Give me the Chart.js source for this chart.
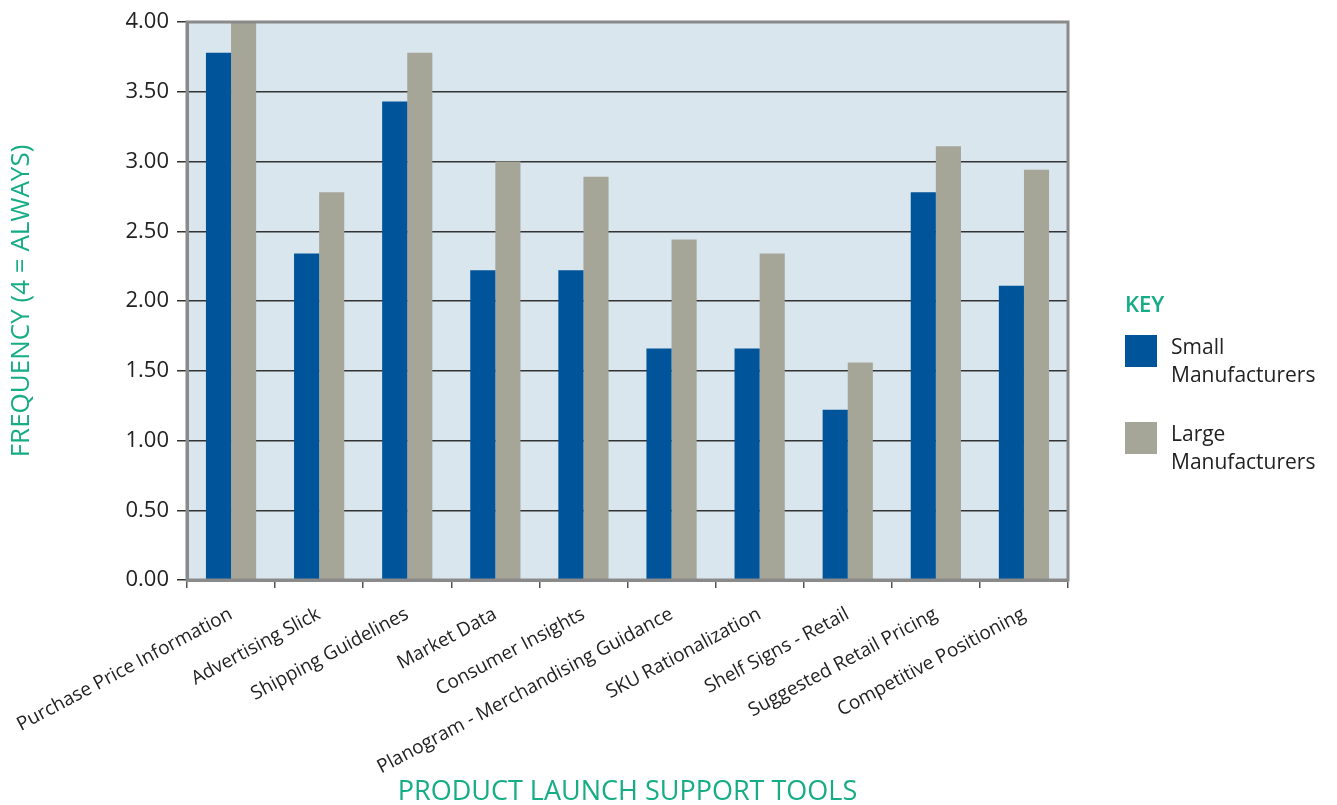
<!DOCTYPE html>
<html>
<head>
<meta charset="utf-8">
<script src="https://cdn.jsdelivr.net/npm/chart.js@4/dist/chart.umd.min.js"></script>
<style>
    html, body { margin: 0; background: #fff; }
    #wrap { width: 1337px; height: 805px; }
</style>
</head>
<body>
<div id="wrap"><canvas id="launch_tools"></canvas></div>
<script>
const tools = [
    "Purchase Price Information", "Advertising Slick", "Shipping Guidelines", "Market Data",
    "Consumer Insights", "Planogram - Merchandising Guidance", "SKU Rationalization",
    "Shelf Signs - Retail", "Suggested Retail Pricing", "Competitive Positioning"
]
const smallManufacturers = [3.78, 2.34, 3.43, 2.22, 2.22, 1.66, 1.66, 1.22, 2.78, 2.11]
const largeManufacturers = [4.00, 2.78, 3.78, 3.00, 2.89, 2.44, 2.34, 1.56, 3.11, 2.94]
const yTicks = [0, 0.5, 1, 1.5, 2, 2.5, 3, 3.5, 4]

const BLUE = '#00559a'
const GREY = '#a5a598'
const GREEN = '#16ad86'
const FONT = "'Open Sans', sans-serif"

Chart.defaults.font.family = FONT
Chart.defaults.color = '#222'

// Plot background + frame
const plotFrame = {
    id: 'plotFrame',
    beforeDraw(chart) {
        const a = chart.chartArea, ctx = chart.ctx
        ctx.save()
        ctx.fillStyle = '#d9e6ee'
        ctx.fillRect(a.left, a.top, a.right - a.left, a.bottom - a.top)
        ctx.restore()
    },
    afterDraw(chart) {
        const a = chart.chartArea, ctx = chart.ctx
        ctx.save()
        ctx.strokeStyle = '#8a8a8a'
        ctx.lineWidth = 3
        ctx.strokeRect(a.left, a.top, a.right - a.left, a.bottom - a.top)
        ctx.restore()
    }
}

// "KEY" legend drawn on the right
const keyLegend = {
    id: 'keyLegend',
    afterDraw(chart) {
        const ctx = chart.ctx
        ctx.save()
        ctx.textBaseline = 'alphabetic'
        ctx.textAlign = 'left'
        ctx.fillStyle = GREEN
        ctx.font = `600 22px ${FONT}`
        ctx.fillText('KEY', 1125, 312)
        const items = [
            { color: BLUE, y: 335, lines: ['Small', 'Manufacturers'] },
            { color: GREY, y: 422, lines: ['Large', 'Manufacturers'] }
        ]
        items.forEach(it => {
            ctx.fillStyle = it.color
            ctx.fillRect(1125, it.y, 32, 32)
            ctx.fillStyle = '#222'
            ctx.font = `21px ${FONT}`
            it.lines.forEach((l, i) => ctx.fillText(l, 1171, it.y + 19 + i * 28))
        })
        ctx.restore()
    }
}

const ctx = document.getElementById('launch_tools').getContext('2d')
new Chart(ctx, {
    type: 'bar',
    data: {
        labels: tools,
        datasets: [
            { label: 'Small Manufacturers', data: smallManufacturers, backgroundColor: BLUE },
            { label: 'Large Manufacturers', data: largeManufacturers, backgroundColor: GREY }
        ]
    },
    options: {
        responsive: true,
        maintainAspectRatio: false,
        animation: false,
        datasets: { bar: { categoryPercentage: 0.57, barPercentage: 1 } },
        layout: { padding: { left: 4, top: 22, right: 269, bottom: 0 } },
        scales: {
            x: {
                grid: { offset: true, drawOnChartArea: false, drawTicks: true, tickLength: 8, color: '#555', lineWidth: 1.5 },
                border: { color: '#8a8a8a', width: 3 },
                ticks: { autoSkip: false, minRotation: 28, maxRotation: 28, padding: 15, font: { size: 19 }, color: '#222' },
                title: { display: true, text: 'PRODUCT LAUNCH SUPPORT TOOLS', color: GREEN, font: { size: 27 }, padding: { top: 0, bottom: -4 } },
                afterFit: s => { s.height = 225; s.paddingLeft = 0; s.paddingRight = 0 }
            },
            y: {
                min: 0,
                max: 4,
                afterBuildTicks: s => { s.ticks = yTicks.map(v => ({ value: v })) },
                grid: { color: '#333', lineWidth: 1.5, tickLength: 10 },
                border: { color: '#8a8a8a', width: 3 },
                ticks: { font: { size: 22 }, color: '#222', padding: 8, callback: v => v.toFixed(2) },
                title: { display: true, text: 'FREQUENCY (4 = ALWAYS)', color: GREEN, font: { size: 26 }, padding: { top: 2, bottom: 0 } },
                afterFit: s => { s.width = 183; s.paddingTop = 0; s.paddingBottom = 0 }
            }
        },
        plugins: {
            legend: { display: false },
            tooltip: { enabled: false }
        }
    },
    plugins: [plotFrame, keyLegend]
})
</script>
</body>
</html>
